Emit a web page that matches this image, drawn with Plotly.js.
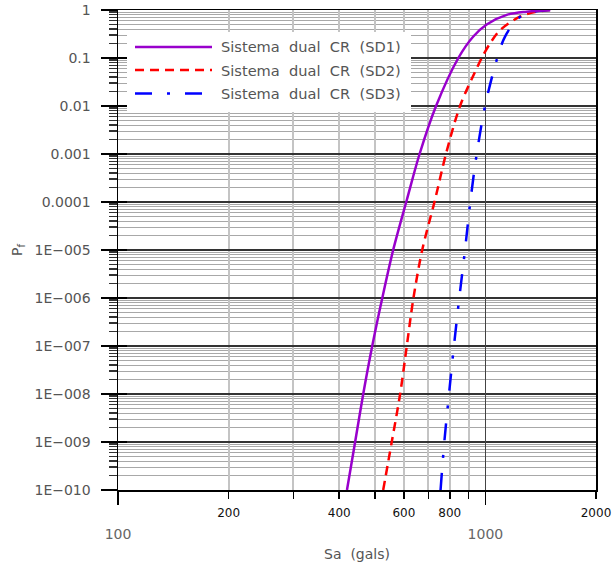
<!DOCTYPE html>
<html>
<head>
<meta charset="utf-8">
<script src="https://cdn.plot.ly/plotly-3.0.1.min.js"></script>
<style>html,body{margin:0;padding:0;background:#fff;}#chart{width:612px;height:564px;}</style>
</head>
<body>
<div id="chart"></div>
<script>
// ---- data ----
var sd1_sa = [420, 442, 465, 492, 524, 561, 611, 662, 734, 844, 927, 1008, 1143, 1295, 1500];
var sd1_pf = [1e-10, 1e-9, 1e-8, 1e-7, 1e-6, 1e-5, 1.1e-4, 1e-3, 1e-2, 0.1, 0.28, 0.5, 0.79, 0.92, 1.0];

var sd2_sa = [527, 556, 586, 611, 637, 673, 729, 781, 853, 947, 977, 1029, 1096, 1242, 1379, 1500];
var sd2_pf = [1e-10, 1e-9, 1e-8, 1e-7, 1e-6, 1e-5, 1.1e-4, 1e-3, 1e-2, 0.061, 0.1, 0.2, 0.38, 0.725, 0.92, 1.0];

var sd3_sa = [755, 773, 796, 821, 849, 880, 911, 947, 998, 1073, 1131, 1237, 1360, 1500];
var sd3_pf = [1e-10, 1e-9, 1e-8, 1e-7, 1e-6, 1e-5, 1.1e-4, 1e-3, 1e-2, 0.09, 0.28, 0.70, 0.92, 1.0];

var seriesNames = ["Sistema\u00a0\u00a0dual\u00a0\u00a0CR\u00a0\u00a0(SD1)",
                   "Sistema\u00a0\u00a0dual\u00a0\u00a0CR\u00a0\u00a0(SD2)",
                   "Sistema\u00a0\u00a0dual\u00a0\u00a0CR\u00a0\u00a0(SD3)"];

var yTickVals = [1e-10, 1e-9, 1e-8, 1e-7, 1e-6, 1e-5, 1e-4, 1e-3, 1e-2, 1e-1, 1];
var yTickText = ["1E\u2212010", "1E\u2212009", "1E\u2212008", "1E\u2212007", "1E\u2212006",
                 "1E\u2212005", "0.0001", "0.001", "0.01", "0.1", "1"];

var xMinorVals = [200, 300, 400, 500, 600, 700, 800, 900, 2000];
var xMinorText = ["200", " ", "400", " ", "600", " ", "800", " ", "2000"];
var xMajorVals = [100, 1000];
var xMajorText = ["100", "1000"];

// minor y ticks (2..9 in each decade)
var yMinorVals = [];
for (var d = -10; d < 0; d++) {
  for (var m = 2; m <= 9; m++) yMinorVals.push(m * Math.pow(10, d));
}

var colors = ["#9900cc", "#ff0000", "#0000ff"];
var dashes = ["solid", "9px,6px", "17px,15px,3px,15px"];

var FONT = "DejaVu Sans";

var traces = [
  {x: sd1_sa, y: sd1_pf, xaxis: "x2", yaxis: "y", name: seriesNames[0], mode: "lines", line: {color: colors[0], width: 2.5, dash: dashes[0], shape: "spline", smoothing: 0.9}, showlegend: false},
  {x: sd2_sa, y: sd2_pf, xaxis: "x", yaxis: "y", name: seriesNames[1], mode: "lines", line: {color: colors[1], width: 2.5, dash: dashes[1], shape: "spline", smoothing: 0.9}, showlegend: false},
  {x: sd3_sa, y: sd3_pf, xaxis: "x", yaxis: "y2", name: seriesNames[2], mode: "lines", line: {color: colors[2], width: 2.5, dash: dashes[2], shape: "spline", smoothing: 0.9}, showlegend: false}
];

// custom legend (paper coordinates)
var L = 118, R = 596, T = 10, B = 490;
function px(x) { return (x - L) / (R - L); }
function py(y) { return (B - y) / (B - T); }

var shapes = [{
  type: "rect", xref: "paper", yref: "paper", layer: "above",
  x0: px(127), x1: px(411), y0: py(112), y1: py(32),
  fillcolor: "#ffffff", line: {width: 0}
}];
var annotations = [];
var rowY = [47, 70, 93.5];
for (var i = 0; i < 3; i++) {
  shapes.push({
    type: "line", xref: "paper", yref: "paper", layer: "above",
    x0: px(135), x1: px(212), y0: py(rowY[i]), y1: py(rowY[i]),
    line: {color: colors[i], width: 2.5, dash: dashes[i]}
  });
  annotations.push({
    xref: "paper", yref: "paper", x: px(219), y: py(rowY[i]),
    xanchor: "left", yanchor: "middle", showarrow: false,
    text: seriesNames[i], font: {family: FONT, size: 14.6, color: "#555"}
  });
}

var layout = {
  width: 612, height: 564,
  margin: {l: L, r: 612 - R, t: T, b: 564 - B},
  paper_bgcolor: "#ffffff", plot_bgcolor: "#ffffff",
  showlegend: false,
  font: {family: FONT, color: "#555"},
  xaxis: {
    type: "log", range: [2, Math.log10(2000)],
    tickmode: "array", tickvals: xMinorVals, ticktext: xMinorText,
    ticks: "outside", ticklen: 7, tickwidth: 1.5, tickcolor: "#000",
    tickfont: {family: FONT, size: 12, color: "#111"},
    ticklabelstandoff: 4,
    showgrid: true, gridcolor: "#c4c4c4", gridwidth: 2,
    showline: true, linecolor: "#000", linewidth: 1.5, mirror: true,
    zeroline: false,
    title: {text: "Sa\u00a0\u00a0(gals)", font: {family: FONT, size: 14, color: "#555"}, standoff: 30}
  },
  xaxis2: {
    type: "log", range: [2, Math.log10(2000)],
    overlaying: "x", anchor: "y", side: "bottom",
    tickmode: "array", tickvals: xMajorVals, ticktext: xMajorText,
    ticks: "outside", ticklen: 14, tickwidth: 1.5, tickcolor: "#000",
    tickfont: {family: FONT, size: 14, color: "#666"},
    ticklabelstandoff: 17,
    showgrid: true, gridcolor: "#444", gridwidth: 1.5,
    showline: false, zeroline: false
  },
  yaxis: {
    type: "log", range: [-10, 0],
    tickmode: "array", tickvals: yTickVals, ticktext: yTickText,
    ticks: "outside", ticklen: 16, tickwidth: 1.5, tickcolor: "#000",
    tickfont: {family: FONT, size: 14, color: "#555"},
    ticklabelstandoff: 7,
    showgrid: true, gridcolor: "#333", gridwidth: 1.5,
    minor: {tickmode: "array", tickvals: yMinorVals, ticks: "outside", ticklen: 8, tickwidth: 1.5, tickcolor: "#333",
            showgrid: true, gridcolor: "#a8a8a8", gridwidth: 1},
    showline: true, linecolor: "#000", linewidth: 1.5, mirror: true,
    zeroline: false,
    title: {text: "P<sub>f</sub>", font: {family: FONT, size: 14, color: "#555"}, standoff: 8}
  },
  yaxis2: {
    type: "log", range: [-10, 0],
    overlaying: "y", anchor: "x", side: "left",
    tickmode: "array", tickvals: yTickVals,
    ticks: "inside", ticklen: 9, tickwidth: 1.5, tickcolor: "#000",
    showticklabels: false, showgrid: false, showline: false, zeroline: false
  },
  shapes: shapes,
  annotations: annotations
};

Plotly.newPlot("chart", traces, layout, {staticPlot: true, displayModeBar: false});
</script>
</body>
</html>
